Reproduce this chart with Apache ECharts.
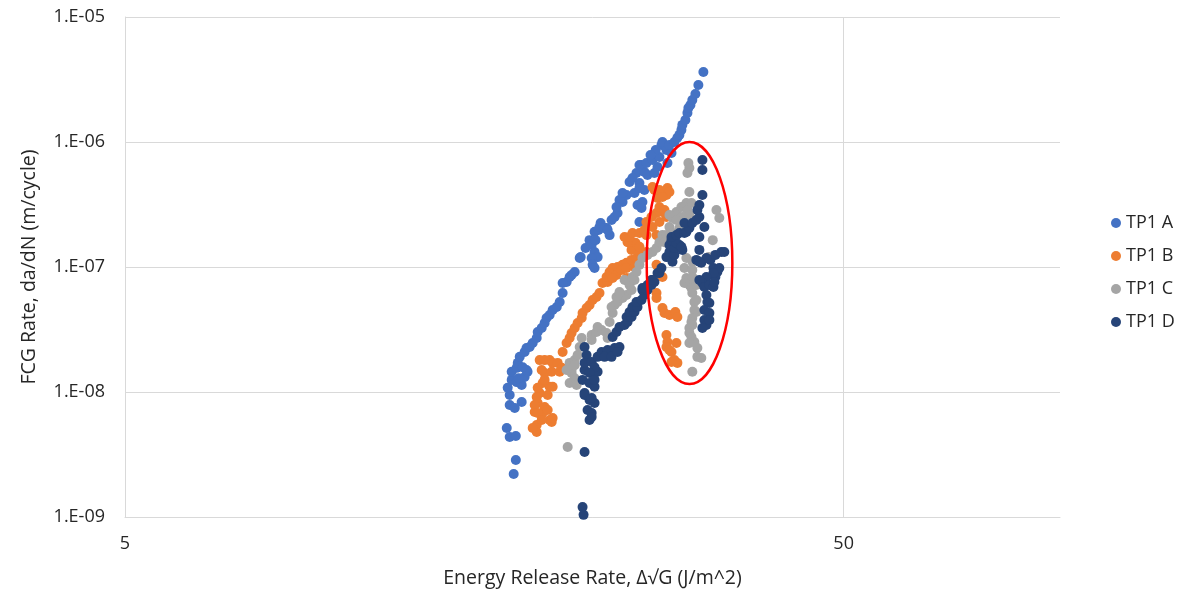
<!DOCTYPE html>
<html>
<head>
<meta charset="utf-8">
<title>FCG Rate vs Energy Release Rate</title>
<script src="https://cdn.jsdelivr.net/npm/echarts@6/dist/echarts.min.js"></script>
<style>
  html, body { margin: 0; padding: 0; background: #ffffff; }
  #chart { width: 1183px; height: 593px; }
</style>
</head>
<body>
<div id="chart"></div>
<script>
// Fatigue crack growth data: [ΔSqrt(G) (J/m^2), da/dN (m/cycle)]
const seriesNames = ['TP1 A', 'TP1 B', 'TP1 C', 'TP1 D'];
const seriesColors = ['#4472C4', '#ED7D31', '#A5A5A5', '#264478'];

const tp1A = [
  [17.37,2.21e-9],[17.49,2.86e-9],[17.15,4.37e-9],[16.99,5.15e-9],[17.49,4.45e-9],[17.15,7.87e-9],
  [17.43,7.45e-9],[17.82,8.32e-9],[17.15,9.46e-9],[17.26,1.25e-8],[17.54,1.20e-8],[17.82,1.14e-8],
  [17.99,1.32e-8],[18.16,1.45e-8],[17.26,1.45e-8],[17.54,1.56e-8],[17.60,1.71e-8],[17.71,1.91e-8],
  [17.99,2.09e-8],[18.10,2.25e-8],[18.28,2.29e-8],[18.46,2.47e-8],[18.70,2.70e-8],[18.76,3.02e-8],
  [19.00,3.25e-8],[19.18,3.56e-8],[19.30,3.91e-8],[19.49,4.13e-8],[19.68,4.53e-8],[19.94,4.79e-8],
  [20.13,5.25e-8],[20.32,6.19e-8],[20.58,7.59e-8],[20.91,8.63e-8],[21.12,9.12e-8],[20.78,8.32e-8],
  [20.32,7.45e-8],[21.46,1.18e-7],[21.53,1.20e-7],[21.87,1.42e-7],[22.15,1.64e-7],[22.51,1.91e-7],
  [22.80,1.98e-7],[22.95,2.25e-7],[23.40,2.05e-7],[23.62,1.80e-7],[22.30,1.50e-7],[22.51,1.32e-7],
  [22.73,1.20e-7],[22.30,1.18e-7],[22.37,1.04e-7],[22.51,9.82e-8],[18.10,1.50e-8],[17.88,1.58e-8],
  [17.04,1.08e-8],[17.65,1.29e-8],[22.58,1.64e-7],[22.87,2.09e-7],[23.24,2.05e-7],[23.47,1.98e-7],
  [23.77,2.38e-7],[24.00,2.51e-7],[24.23,2.70e-7],[24.62,3.31e-7],[24.94,3.77e-7],[25.83,3.13e-7],
  [25.99,2.29e-7],[25.58,3.91e-7],[26.41,4.13e-7],[25.18,4.79e-7],[25.99,4.70e-7],[25.74,5.65e-7],
  [26.41,5.75e-7],[26.16,6.55e-7],[27.89,9.46e-7],[28.34,8.63e-7],[24.38,3.44e-7],[24.15,3.02e-7],
  [26.24,3.31e-7],[26.16,2.96e-7],[24.62,3.91e-7],[25.42,5.15e-7],[25.99,4.29e-7],[26.67,5.45e-7],
  [27.27,5.65e-7],[27.54,6.31e-7],[25.99,6.55e-7],[26.58,6.79e-7],[27.10,7.18e-7],[27.71,7.59e-7],
  [28.43,6.79e-7],[28.80,8.17e-7],[27.98,1.00e-6],[28.61,9.46e-7],[29.07,1.00e-6],[29.35,1.08e-6],
  [29.54,1.14e-6],[29.73,1.25e-6],[29.82,1.37e-6],[30.11,1.50e-6],[30.31,1.71e-6],[30.40,1.87e-6],
  [30.60,1.98e-6],[30.79,2.17e-6],[31.09,2.42e-6],[31.39,2.86e-6],[31.90,3.63e-6],[27.38,8.63e-7],
  [26.93,7.87e-7]
];

const tp1B = [
  [19.18,1.42e-8],[19.62,1.45e-8],[20.13,1.45e-8],[19.06,1.18e-8],[19.49,1.10e-8],[18.88,9.82e-9],
  [19.37,9.46e-9],[18.76,8.17e-9],[19.18,7.59e-9],[18.58,6.92e-9],[19.06,6.79e-9],[19.49,5.97e-9],
  [19.62,5.75e-9],[18.70,5.45e-9],[18.70,4.79e-9],[18.46,5.15e-9],[18.88,1.80e-8],[19.18,1.80e-8],
  [19.49,1.80e-8],[19.68,1.71e-8],[20.00,1.71e-8],[20.26,1.56e-8],[19.00,1.50e-8],[19.18,1.25e-8],
  [19.68,1.10e-8],[18.76,1.08e-8],[18.70,9.12e-9],[18.58,7.87e-9],[19.37,7.18e-9],[19.68,6.19e-9],
  [18.76,6.79e-9],[19.00,5.97e-9],[20.32,2.09e-8],[20.58,2.47e-8],[20.78,2.70e-8],[20.91,2.96e-8],
  [21.12,3.25e-8],[21.32,3.56e-8],[21.60,3.91e-8],[21.66,4.29e-8],[21.94,4.70e-8],[22.15,4.97e-8],
  [22.37,5.45e-8],[22.65,5.75e-8],[22.87,6.19e-8],[23.09,7.45e-8],[23.47,7.59e-8],[23.39,8.32e-8],
  [23.62,9.12e-8],[23.85,9.82e-8],[24.23,1.00e-7],[24.62,1.04e-7],[24.94,1.08e-7],[25.34,1.14e-7],
  [25.74,1.18e-7],[25.34,1.37e-7],[25.99,1.29e-7],[26.58,1.32e-7],[25.66,1.56e-7],[25.02,1.58e-7],
  [24.78,1.74e-7],[25.18,1.74e-7],[25.42,1.87e-7],[25.99,1.87e-7],[26.41,1.98e-7],[27.10,2.09e-7],
  [27.71,2.29e-7],[28.34,2.51e-7],[27.98,2.75e-7],[27.45,2.70e-7],[27.71,3.02e-7],[27.54,3.56e-7],
  [28.34,3.77e-7],[27.27,4.13e-7],[27.71,4.13e-7],[28.43,4.29e-7],[27.10,4.37e-7],[28.61,3.98e-7],
  [27.98,3.63e-7],[28.16,2.86e-7],[25.99,1.45e-7],[26.58,2.29e-7],[27.01,2.51e-7],[26.58,1.80e-7],
  [27.45,1.80e-7],[24.15,8.63e-8],[23.85,8.17e-8],[24.54,9.46e-8],[24.94,9.82e-8],[25.58,1.00e-7],
  [24.94,8.17e-8],[27.45,1.04e-7],[27.71,9.12e-8],[27.98,8.32e-8],[27.45,6.19e-8],[27.98,4.70e-8],
  [28.16,4.29e-8],[28.61,4.13e-8],[29.16,4.37e-8],[29.35,3.98e-8],[28.34,2.86e-8],[28.43,2.51e-8],
  [28.34,2.29e-8],[29.26,2.47e-8],[28.80,2.09e-8],[29.07,1.80e-8],[29.35,1.71e-8],[28.61,2.17e-8],
  [28.80,1.74e-8],[27.45,5.65e-8]
];

const tp1C = [
  [20.91,1.42e-8],[21.12,1.29e-8],[20.78,1.18e-8],[21.25,1.14e-8],[20.65,3.63e-9],[20.78,1.71e-8],
  [20.91,1.50e-8],[21.12,1.80e-8],[21.32,1.98e-8],[21.46,2.29e-8],[21.60,2.70e-8],[22.30,2.86e-8],
  [22.65,3.02e-8],[23.02,3.13e-8],[23.39,2.96e-8],[23.62,2.75e-8],[22.73,3.31e-8],[23.62,3.63e-8],
  [23.85,4.29e-8],[23.77,4.79e-8],[24.00,4.97e-8],[24.23,5.25e-8],[24.62,5.65e-8],[24.94,5.97e-8],
  [25.34,6.55e-8],[25.18,7.18e-8],[24.78,7.87e-8],[25.58,7.87e-8],[23.47,2.70e-8],[20.58,1.50e-8],
  [21.12,1.64e-8],[22.30,2.61e-8],[24.15,5.75e-8],[24.38,6.31e-8],[25.10,7.59e-8],[25.42,8.32e-8],
  [25.74,9.12e-8],[25.99,1.04e-7],[26.24,1.18e-7],[26.67,1.25e-7],[27.10,1.32e-7],[27.45,1.42e-7],
  [27.71,1.58e-7],[27.98,1.80e-7],[28.34,1.80e-7],[28.61,2.09e-7],[28.89,1.87e-7],[28.89,2.47e-7],
  [29.26,2.75e-7],[29.54,2.38e-7],[29.73,3.02e-7],[30.21,3.25e-7],[30.70,3.25e-7],[30.50,3.98e-7],
  [30.02,3.02e-7],[30.31,2.86e-7],[28.61,2.61e-7],[29.82,2.51e-7],[30.50,2.61e-7],[29.54,2.05e-7],
  [30.40,6.79e-7],[30.50,6.19e-7],[30.31,5.65e-7],[33.26,2.86e-7],[32.87,1.64e-7],[32.43,1.20e-7],
  [33.57,2.47e-7],[30.21,1.18e-7],[30.02,9.82e-8],[30.79,1.10e-7],[30.79,9.46e-8],[30.21,8.17e-8],
  [30.79,8.32e-8],[30.02,7.45e-8],[31.19,7.18e-8],[30.50,7.18e-8],[30.70,6.79e-8],[30.79,6.19e-8],
  [31.19,5.45e-8],[30.99,5.25e-8],[31.19,4.37e-8],[30.99,4.53e-8],[30.79,3.91e-8],[30.70,3.63e-8],
  [30.79,3.44e-8],[30.50,3.25e-8],[30.50,2.96e-8],[30.70,2.75e-8],[30.99,2.51e-8],[30.50,2.47e-8],
  [31.29,2.25e-8],[31.29,1.91e-8],[31.69,1.87e-8],[30.79,1.45e-8],[28.16,1.58e-7],[29.26,2.38e-7]
];

const tp1D = [
  [21.80,1.50e-8],[22.30,1.42e-8],[22.73,1.45e-8],[21.66,1.25e-8],[22.15,1.18e-8],[22.51,1.10e-8],
  [21.80,9.82e-9],[22.15,8.63e-9],[22.51,8.17e-9],[22.01,7.18e-9],[22.30,6.79e-9],[22.15,5.97e-9],
  [21.80,3.31e-9],[21.66,1.20e-9],[21.73,1.04e-9],[21.80,2.29e-8],[21.94,1.98e-8],[21.80,1.71e-8],
  [22.30,1.74e-8],[22.51,1.58e-8],[22.15,1.42e-8],[22.51,1.25e-8],[21.80,9.46e-9],[22.30,8.95e-9],
  [22.30,6.31e-9],[22.73,1.91e-8],[23.02,2.09e-8],[23.47,2.17e-8],[24.00,2.25e-8],[24.38,2.29e-8],
  [23.24,1.91e-8],[23.77,1.91e-8],[24.23,2.09e-8],[23.85,2.75e-8],[24.15,3.02e-8],[24.38,3.31e-8],
  [24.78,3.44e-8],[25.02,3.63e-8],[24.94,3.98e-8],[25.34,3.98e-8],[25.18,4.37e-8],[25.58,4.37e-8],
  [25.42,4.79e-8],[25.83,4.79e-8],[25.74,5.25e-8],[26.16,5.45e-8],[26.41,5.97e-8],[26.24,6.55e-8],
  [26.67,6.55e-8],[26.67,7.18e-8],[27.01,7.18e-8],[27.01,7.87e-8],[27.27,7.59e-8],[27.54,8.95e-8],
  [27.71,8.95e-8],[27.89,9.82e-8],[28.34,1.20e-7],[28.89,1.10e-7],[28.61,1.32e-7],[29.07,1.25e-7],
  [28.61,1.50e-7],[29.07,1.42e-7],[29.54,1.50e-7],[29.82,1.37e-7],[28.80,1.64e-7],[29.26,1.56e-7],
  [29.73,1.45e-7],[28.80,1.74e-7],[29.26,1.80e-7],[29.54,1.87e-7],[30.02,1.87e-7],[30.21,1.91e-7],
  [30.50,2.05e-7],[30.02,2.25e-7],[30.79,2.25e-7],[31.19,2.38e-7],[31.49,2.51e-7],[31.29,2.86e-7],
  [31.49,3.13e-7],[31.80,3.77e-7],[31.80,5.97e-7],[31.80,7.18e-7],[27.10,7.87e-8],[26.24,6.79e-8],
  [31.49,1.74e-7],[32.00,2.09e-7],[31.49,1.37e-7],[31.19,1.14e-7],[31.69,1.08e-7],[32.62,1.14e-7],
  [33.15,1.25e-7],[33.78,1.32e-7],[34.11,1.32e-7],[32.21,1.18e-7],[31.49,1.10e-7],[32.94,9.82e-8],
  [33.36,9.12e-8],[33.57,9.82e-8],[33.15,8.32e-8],[32.94,8.95e-8],[32.21,8.32e-8],[31.80,7.45e-8],
  [31.49,7.87e-8],[32.00,6.92e-8],[32.52,7.18e-8],[32.94,6.92e-8],[33.04,7.59e-8],[32.21,5.97e-8],
  [32.31,5.25e-8],[32.52,5.15e-8],[32.00,4.53e-8],[32.52,4.29e-8],[32.00,3.77e-8],[32.21,3.44e-8],
  [31.80,3.25e-8],[32.52,3.77e-8]
];

const seriesData = [tp1A, tp1B, tp1C, tp1D];

// Axis ranges and tick labels
const xRange = [5, 100];
const xTickValues = [5, 50];
const yRange = [1e-9, 1e-5];
const yTickValues = [1e-9, 1e-8, 1e-7, 1e-6, 1e-5];
const yTickLabels = ['1.E-09', '1.E-08', '1.E-07', '1.E-06', '1.E-05'];

// Region of interest highlighted with an ellipse (data-space bounding box)
const highlightBox = { xMin: 26.6, xMax: 35.0, yMin: 1.16e-8, yMax: 1.0e-6 };

const FONT = "'Open Sans', 'Noto Sans', sans-serif";
const TEXT = '#262626';
const GRID = '#d9d9d9';

const chart = echarts.init(document.getElementById('chart'), null, { renderer: 'canvas' });

function yLabel(v) {
  let best = 0, bestErr = Infinity;
  yTickValues.forEach((t, i) => {
    const err = Math.abs(Math.log10(v) - Math.log10(t));
    if (err < bestErr) { bestErr = err; best = i; }
  });
  return bestErr < 0.01 ? yTickLabels[best] : '';
}

chart.setOption({
  animation: false,
  backgroundColor: '#ffffff',
  textStyle: { fontFamily: FONT },
  grid: { left: 125, right: 123, top: 17, bottom: 76, containLabel: false },
  legend: {
    orient: 'vertical',
    left: 1106,
    top: 209,
    itemWidth: 10,
    itemHeight: 10,
    itemGap: 15,
    icon: 'circle',
    data: seriesNames,
    textStyle: { fontFamily: FONT, fontSize: 18, color: TEXT }
  },
  xAxis: {
    type: 'log',
    logBase: 10,
    min: xRange[0],
    max: xRange[1],
    name: 'Energy Release Rate, Δ√G (J/m^2)',
    nameLocation: 'middle',
    nameGap: 51,
    nameTextStyle: { fontFamily: FONT, fontSize: 19.5, color: TEXT },
    axisLine: { show: true, lineStyle: { color: GRID, width: 1 } },
    axisTick: { show: false, customValues: xTickValues },
    axisLabel: {
      customValues: xTickValues,
      margin: 18,
      fontFamily: FONT, fontSize: 18, color: TEXT,
      formatter: v => String(Math.round(v))
    },
    splitLine: { show: true, lineStyle: { color: GRID, width: 1 } },
    minorTick: { show: false },
    minorSplitLine: { show: false }
  },
  yAxis: {
    type: 'log',
    logBase: 10,
    min: yRange[0],
    max: yRange[1],
    name: 'FCG Rate, da/dN (m/cycle)',
    nameLocation: 'middle',
    nameGap: 86,
    nameTextStyle: { fontFamily: FONT, fontSize: 19.5, color: TEXT },
    axisLine: { show: true, lineStyle: { color: GRID, width: 1 } },
    axisTick: { show: false },
    axisLabel: {
      margin: 20,
      fontFamily: FONT, fontSize: 18, color: TEXT,
      formatter: yLabel
    },
    splitLine: { show: true, lineStyle: { color: GRID, width: 1 } }
  },
  series: seriesNames.map((name, i) => ({
    name,
    type: 'scatter',
    symbol: 'circle',
    symbolSize: 10,
    itemStyle: { color: seriesColors[i], opacity: 1 },
    emphasis: { disabled: true },
    data: seriesData[i],
    z: 2 + i
  }))
});

// Ellipse outlining the scattered high-ΔG region
const p0 = chart.convertToPixel({ gridIndex: 0 }, [highlightBox.xMin, highlightBox.yMax]);
const p1 = chart.convertToPixel({ gridIndex: 0 }, [highlightBox.xMax, highlightBox.yMin]);
chart.setOption({
  graphic: [{
    type: 'ellipse',
    z: 100,
    silent: true,
    shape: {
      cx: (p0[0] + p1[0]) / 2,
      cy: (p0[1] + p1[1]) / 2,
      rx: Math.abs(p1[0] - p0[0]) / 2,
      ry: Math.abs(p1[1] - p0[1]) / 2
    },
    style: { fill: 'none', stroke: '#FF0000', lineWidth: 2.5 }
  }]
});
</script>
</body>
</html>
